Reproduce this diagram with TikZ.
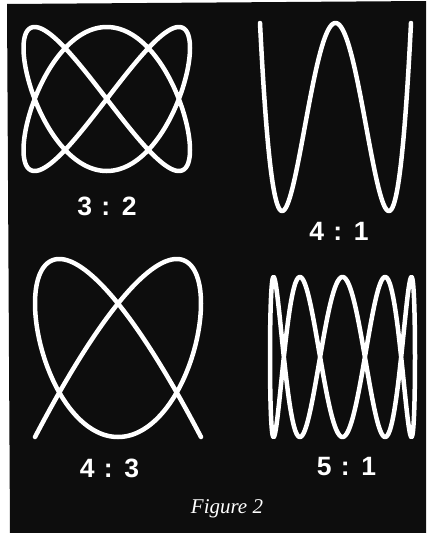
\documentclass[tikz,border=0pt]{standalone}
\usepackage{fontspec}
\usepackage{tikz}
\newfontfamily\ratiofont[WordSpace=1.25]{Liberation Sans}
\newfontfamily\captionfont{Liberation Serif}

\begin{document}
\begin{tikzpicture}[
    x=1pt, y=-1pt,
    curve/.style={white, line width=4.5pt, line cap=round, line join=round},
    ratio/.style={text=white, inner sep=0pt, font=\ratiofont\bfseries\fontsize{26.5}{26.5}\selectfont},
    caption/.style={text=white, inner sep=0pt, anchor=base, font=\captionfont\itshape\fontsize{21}{21}\selectfont}
]
  \useasboundingbox (0,0) rectangle (426,533);
  \fill[white] (0,0) rectangle (426,533);

  % Black plate
  \fill[black!95] (7,4) -- (426,1) -- (426,533) -- (10,533) -- cycle;

  % Top left: 3 : 2
  \draw[curve] plot[domain=0:360, samples=361, variable=\t]
    ({106.75+83.25*sin(2*\t)}, {99+72*sin(3*\t)}) -- cycle;
  \node[ratio] (lblA) at (107,206) {3 : 2};

  % Top right: 4 : 1
  \draw[curve] plot[domain=0:180, samples=241, variable=\t]
    ({335.5+75.5*cos(\t)}, {117-94*cos(4*\t)});
  \node[ratio] (lblB) at (339,231) {4 : 1};

  % Bottom left: 4 : 3
  \draw[curve] plot[domain=0:180, samples=301, variable=\t]
    ({118+83*cos(3*\t)}, {348+89*cos(4*\t)});
  \node[ratio] (lblC) at (109.5,468) {4 : 3};

  % Bottom right: 5 : 1
  \draw[curve] plot[domain=0:360, samples=481, variable=\t]
    ({342.5+72.5*cos(\t)}, {357+80*sin(5*\t)}) -- cycle;
  \node[ratio] (lblD) at (346.5,467) {5 : 1};

  % Caption
  \node[caption] (caption) at (227,513) {Figure 2};
\end{tikzpicture}
\end{document}
